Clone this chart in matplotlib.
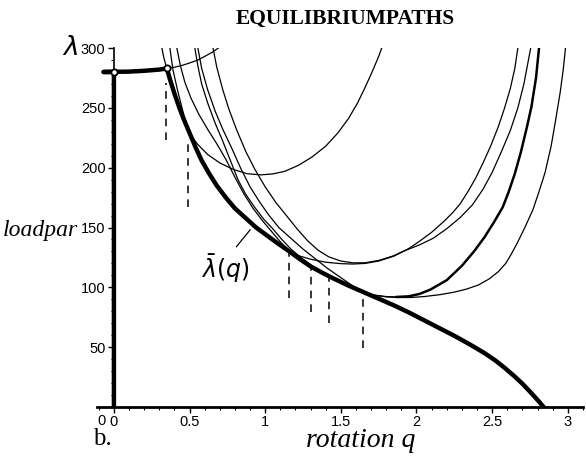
import matplotlib
matplotlib.use("Agg")
import matplotlib.pyplot as plt
from matplotlib.ticker import MultipleLocator

# main (envelope) path: vertical part, plateau, falling branch
env_q = [0.0, 0.0, -0.07, 0.1, 0.2, 0.3, 0.35, 0.37, 0.40, 0.43, 0.46, 0.50, 0.54, 0.58, 0.63,
         0.68, 0.74, 0.80, 0.87, 0.94, 1.01, 1.08, 1.16, 1.23, 1.30, 1.38, 1.45, 1.55, 1.65,
         1.75, 1.85, 1.95, 2.05, 2.15, 2.25, 2.35, 2.45, 2.52, 2.58, 2.64, 2.70, 2.76, 2.81, 2.84]
env_lam = [0, 280, 280, 280.3, 281, 282, 283, 274, 262, 251, 241, 229, 217, 206, 195,
           185, 175, 166, 158, 150, 143.5, 137, 130, 123.5, 117.5, 112, 107.5, 101.5, 96,
           90.5, 85, 79, 72.5, 66, 59.5, 52.5, 45, 39, 33, 26.5, 19.5, 11.5, 4.5, 0]

# equilibrium paths (thin)
p0_q = [0.317, 0.33, 0.345, 0.36, 0.40, 0.45, 0.50, 0.555, 0.60, 0.65, 0.69]
p0_lam = [300, 292, 285, 283, 284, 285.5, 287.5, 290, 293, 296.5, 300]

p1_q = [0.37, 0.39, 0.42, 0.46, 0.50, 0.55, 0.62, 0.70, 0.79, 0.88, 0.97, 1.05, 1.13, 1.22,
        1.31, 1.40, 1.48, 1.55, 1.61, 1.66, 1.71, 1.75, 1.77]
p1_lam = [300, 282, 265, 245, 229, 220, 211, 204, 198.5, 195, 194, 194.8, 197, 202,
          209, 218, 229, 241, 254, 267, 281, 293, 300]

p2a_q = [0.416, 0.44, 0.47, 0.51, 0.56, 0.62, 0.68, 0.74, 0.80, 0.86, 0.92, 0.98, 1.04, 1.10,
         1.16, 1.22, 1.30, 1.40, 1.50, 1.58, 1.66, 1.75, 1.85, 1.95, 2.02, 2.10, 2.18, 2.24,
         2.29, 2.34, 2.39, 2.44, 2.49, 2.54, 2.58, 2.62, 2.65, 2.67]
p2a_lam = [300, 285, 271, 258, 245, 232, 220, 207, 192, 178, 166, 156, 147, 138,
           130.5, 126.5, 123.5, 121, 119.8, 119.5, 120, 122, 126, 132.5, 138.5, 146, 155, 162.5,
           170, 180, 191, 204, 218, 234, 249, 266, 283, 300]

p2b_q = [0.655, 0.68, 0.72, 0.76, 0.81, 0.87, 0.93, 1.00, 1.07, 1.14, 1.21, 1.28, 1.35, 1.42,
         1.50, 1.58, 1.66, 1.75, 1.84, 1.92, 2.02, 2.11, 2.20, 2.29, 2.37, 2.44, 2.50, 2.56,
         2.62, 2.67, 2.71, 2.74, 2.755]
p2b_lam = [300, 284, 265, 249, 232, 214, 199, 184, 171, 160, 149, 139, 131, 125.5,
           122, 120.5, 120.5, 122.5, 126, 130.5, 135.5, 141, 149, 158.5, 169, 182, 196, 213,
           231, 250, 270, 290, 300]

p3a_q = [0.535, 0.555, 0.58, 0.62, 0.67, 0.72, 0.77, 0.82, 0.87, 0.93, 0.99, 1.05, 1.11, 1.17,
         1.24, 1.31, 1.40, 1.50, 1.58, 1.645, 1.72, 1.80, 1.87]
p3a_lam = [300, 285, 270, 254, 237, 222, 206, 190, 178, 167, 157, 149, 140, 132,
           124.5, 118, 111, 104, 99, 96, 93.5, 92.3, 92]

# right branch of p3a drawn heavier
p3a_right_q = [1.87, 1.95, 2.02, 2.09, 2.2, 2.3, 2.38, 2.45, 2.51, 2.57, 2.61, 2.65, 2.69,
               2.73, 2.76, 2.79, 2.81]
p3a_right_lam = [92, 92.5, 94.5, 98, 106, 118, 130, 142, 154, 167, 180, 195, 213,
                 234, 251, 275, 300]

p3b_q = [0.555, 0.58, 0.62, 0.67, 0.72, 0.78, 0.84, 0.90, 0.96, 1.02, 1.09, 1.17, 1.25, 1.33,
         1.41, 1.49, 1.57, 1.645, 1.72, 1.80, 1.88, 1.96, 2.05, 2.15, 2.25, 2.33, 2.41, 2.48,
         2.54, 2.59, 2.63, 2.67, 2.72, 2.77, 2.81, 2.85, 2.89, 2.92, 2.95, 2.97, 2.985]
p3b_lam = [300, 283, 265, 247, 232, 216, 199, 184, 172, 161, 150, 141, 132, 124,
           116, 109, 102, 96.5, 93.5, 92, 91.5, 91.5, 92.3, 93.8, 96, 98.5, 102, 107,
           113, 120, 128.5, 138, 151, 165, 180, 196, 218, 240, 263, 282, 300]

# tangent points marked with dashed drops
drop_q = [0.342, 0.49, 1.155, 1.30, 1.42, 1.645]
drop_top = [271, 220, 129, 117, 109, 95]
drop_bot = [223, 167, 91, 79, 70, 49]

dot_q = [0.0, 0.35]
dot_lam = [280, 283]

fig = plt.figure(figsize=(5.86, 4.59), dpi=100)
ax = fig.add_axes([0.166, 0.1133, 0.8287, 0.782])

for q, lam in [(p0_q, p0_lam), (p1_q, p1_lam), (p2a_q, p2a_lam), (p2b_q, p2b_lam),
               (p3a_q, p3a_lam), (p3b_q, p3b_lam)]:
    ax.plot(q, lam, color="black", lw=0.9, solid_joinstyle="round")
ax.plot(p3a_right_q, p3a_right_lam, color="black", lw=1.8, solid_joinstyle="round")
ax.plot(env_q, env_lam, color="black", lw=3.2, solid_joinstyle="round")
ax.vlines(drop_q, drop_bot, drop_top, colors="black", lw=1.1, linestyles=(0, (5, 4)))
ax.plot(dot_q, dot_lam, "o", ms=4.5, mfc="white", mec="black", mew=1.3, zorder=5)

ax.set_xlim(-0.11, 3.10)
ax.set_ylim(0, 300)
ax.spines["left"].set_position(("data", 0))
ax.spines["bottom"].set_linewidth(2)
ax.spines["left"].set_linewidth(1.2)
ax.spines["top"].set_visible(False)
ax.spines["right"].set_visible(False)

ax.set_xticks([0, 0.5, 1, 1.5, 2, 2.5, 3])
ax.set_xticklabels(["0", "0.5", "1", "1.5", "2", "2.5", "3"])
ax.set_yticks([50, 100, 150, 200, 250, 300])
ax.xaxis.set_minor_locator(MultipleLocator(0.1))
ax.yaxis.set_minor_locator(MultipleLocator(10))
ax.tick_params(which="major", length=4, width=1, labelsize=10.5, pad=2)
ax.tick_params(which="minor", length=2, width=0.8)
for lab in ax.get_xticklabels() + ax.get_yticklabels():
    lab.set_family("Liberation Sans")

ax.text(-0.055, -6, "0", fontsize=10.5, family="Liberation Sans", ha="right", va="top")

ax.text(0.735, 116, r"$\bar{\lambda}(q)$", fontsize=17, ha="center", va="center")
ax.plot([0.81, 0.90], [134, 148], color="black", lw=0.9)

fig.text(0.589, 0.958, "EQUILIBRIUMPATHS", fontsize=15.5, family="Liberation Serif",
         weight="bold", ha="center", va="center")
fig.text(0.12, 0.895, r"$\lambda$", fontsize=19, ha="center", va="center")
fig.text(0.004, 0.498, "loadpar", fontsize=17, family="Liberation Serif",
         style="italic", ha="left", va="center")
fig.text(0.523, 0.026, "rotation q", fontsize=20, family="Liberation Serif",
         style="italic", ha="left", va="baseline")
fig.text(0.158, 0.043, "b.", fontsize=18, family="Liberation Serif", ha="left", va="center")

fig.savefig("out.png", dpi=100)
